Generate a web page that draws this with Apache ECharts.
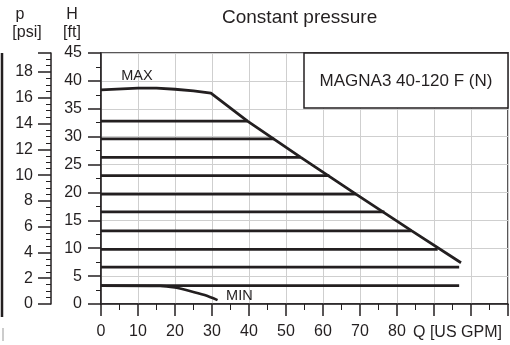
<!DOCTYPE html>
<html>
<head>
    <meta charset="utf-8">
    <title>MAGNA3 40-120 F (N)</title>
    <script src="https://cdn.jsdelivr.net/npm/echarts@6/dist/echarts.min.js"></script>
    <style>
      html, body { margin: 0; padding: 0; background: #fff; }
    </style>
</head>
<body>
    <div id="main" style="width:510px;height:345px;"></div>
    <script type="text/javascript">
        // curve data (Q in US GPM, H in ft)
        var maxCurve = [[0, 38.4], [10, 38.7], [15, 38.7], [20, 38.5], [25, 38.2], [29.7, 37.8],
                        [39.6, 32.8], [54, 26.3], [68.9, 19.7], [84, 13.1], [97.3, 7.4]];
        var minCurve = [[0, 3.3], [16, 3.25], [20, 2.95], [24, 2.35], [28, 1.6], [31.5, 0.7]];
        var levels = [3.3, 6.6, 9.8, 13.1, 16.5, 19.7, 23.0, 26.3, 29.6, 32.8];
        var levelEnds = [96.8, 96.8, 91.0, 83.9, 76.6, 68.9, 61.7, 54.0, 46.8, 39.6];
        var xTickLabels = [0, 10, 20, 30, 40, 50, 60, 70, 80];
        var curveLabels = [[9.7, 40.8, 'MAX'], [37.4, 1.4, 'MIN']];
        var ftPerPsi = 2.31;

        var ink = '#231f20';
        var font = 'Liberation Sans, Arial, sans-serif';
        var myChart = echarts.init(document.getElementById('main'));

        var series = [];
        levels.forEach(function (h, i) {
          series.push({
            type: 'line', showSymbol: false, silent: true,
            lineStyle: { color: ink, width: 2.8 },
            data: [[0, h], [levelEnds[i], h]]
          });
        });
        series.push({
          type: 'line', showSymbol: false, silent: true,
          lineStyle: { color: ink, width: 2.8 },
          data: maxCurve
        });
        series.push({
          type: 'line', showSymbol: false, silent: true, smooth: 0.3,
          lineStyle: { color: ink, width: 2.6 },
          data: minCurve
        });
        // MAX / MIN text next to the curves
        series.push({
          type: 'scatter', symbolSize: 0, silent: true,
          itemStyle: { opacity: 1 },
          label: {
            show: true, position: 'inside', color: ink, fontSize: 14.5, fontFamily: font,
            formatter: function (p) { return p.data[2]; }
          },
          data: curveLabels
        });

        var option = {
          animation: false,
          title: {
            text: 'Constant pressure', left: 222, top: 8, padding: 0,
            textStyle: { fontSize: 19, fontWeight: 'normal', color: ink, fontFamily: font }
          },
          grid: {
            left: 101, right: 2, top: 53, bottom: 41,
            show: true, borderColor: ink, borderWidth: 1.5
          },
          xAxis: {
            type: 'value', min: 0, max: 110, interval: 10,
            axisLine: { onZero: false, lineStyle: { color: ink, width: 1.5 } },
            axisTick: { length: 12, lineStyle: { color: ink, width: 1.5 } },
            minorTick: { show: true, splitNumber: 2, length: 6, lineStyle: { color: ink, width: 1 } },
            splitLine: { lineStyle: { color: '#cfcfcf', width: 1 } },
            axisLabel: {
              margin: 20, fontSize: 16, color: ink, fontFamily: font,
              showMaxLabel: false,
              formatter: function (v) { return xTickLabels.indexOf(v) >= 0 ? String(v) : ''; }
            }
          },
          yAxis: [{
            type: 'value', min: 0, max: 45, interval: 5,
            axisLine: { show: true, lineStyle: { color: ink, width: 1.5 } },
            axisTick: { show: true, length: 13, lineStyle: { color: ink, width: 1.5 } },
            minorTick: { show: true, splitNumber: 2, length: 5, lineStyle: { color: ink, width: 1 } },
            splitLine: { lineStyle: { color: '#cfcfcf', width: 1 } },
            axisLabel: { margin: 19, fontSize: 16, color: ink, fontFamily: font }
          }, {
            type: 'value', position: 'left', offset: 50,
            min: 0, max: 45 / ftPerPsi, interval: 2,
            axisLine: { show: true, lineStyle: { color: ink, width: 1.5 } },
            axisTick: { show: true, length: 13, lineStyle: { color: ink, width: 1.5 } },
            minorTick: { show: true, splitNumber: 4, length: 5, lineStyle: { color: ink, width: 1 } },
            splitLine: { show: false },
            axisLabel: { margin: 18, fontSize: 16, color: ink, fontFamily: font, showMaxLabel: false }
          }],
          graphic: [
            { type: 'text', x: 20, y: 15, style: { text: 'p', fontSize: 16, fontFamily: font, fill: ink, align: 'center', verticalAlign: 'middle' } },
            { type: 'text', x: 27, y: 33, style: { text: '[psi]', fontSize: 16, fontFamily: font, fill: ink, align: 'center', verticalAlign: 'middle' } },
            { type: 'text', x: 72, y: 15, style: { text: 'H', fontSize: 16, fontFamily: font, fill: ink, align: 'center', verticalAlign: 'middle' } },
            { type: 'text', x: 72, y: 33, style: { text: '[ft]', fontSize: 16, fontFamily: font, fill: ink, align: 'center', verticalAlign: 'middle' } },
            { type: 'text', x: 413, y: 333, style: { text: 'Q [US GPM]', fontSize: 16, fontFamily: font, fill: ink, align: 'left', verticalAlign: 'middle' } },
            { type: 'line', shape: { x1: 2, y1: 53, x2: 2, y2: 317 }, style: { stroke: ink, lineWidth: 2.5 } },
            { type: 'line', shape: { x1: 3, y1: 328, x2: 3, y2: 341 }, style: { stroke: '#bbbbbb', lineWidth: 1.5 } },
            { type: 'rect', z: 100, shape: { x: 304, y: 53, width: 204, height: 55 },
              style: { fill: '#fff', stroke: ink, lineWidth: 1.5 } },
            { type: 'text', z: 101, x: 406, y: 81, style: { text: 'MAGNA3 40-120 F (N)', fontSize: 17, fontFamily: font, fill: ink, align: 'center', verticalAlign: 'middle' } }
          ],
          series: series
        };

        myChart.setOption(option);
    </script>
</body>
</html>
